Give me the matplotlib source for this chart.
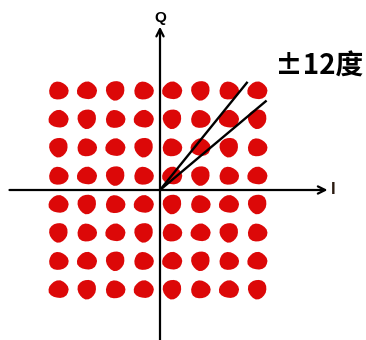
import numpy as np
import matplotlib
matplotlib.use("Agg")
import matplotlib.pyplot as plt
from matplotlib.path import Path

# 64-QAM constellation levels on each axis
i_levels = [-3.5, -2.5, -1.5, -0.5, 0.5, 1.5, 2.5, 3.5]
q_levels = [-3.5, -2.5, -1.5, -0.5, 0.5, 1.5, 2.5, 3.5]

# phase-error wedge: two rays from the origin (degrees) and their length
ray_angles = [51.0, 40.0]
ray_length = 4.9
wedge_label = "±12度"

red = "#DC0808"


def make_blob(radii, sx=1.0, sy=1.0):
    """Closed irregular outline used as a cluster marker."""
    t = np.linspace(0, 2 * np.pi, len(radii), endpoint=False)
    v = np.column_stack([sx * np.cos(t) * radii, sy * np.sin(t) * radii])
    v = np.vstack([v, v[:1]])
    codes = [Path.MOVETO] + [Path.LINETO] * (len(radii) - 1) + [Path.CLOSEPOLY]
    return Path(v, codes)


blobs = [
    make_blob([1.0, 0.98, 0.95, 0.97, 1.02, 1.0, 0.96, 0.93, 0.97, 1.0,
               1.04, 1.0, 0.95, 0.92, 0.96, 1.0, 1.02, 0.99], 1.0, 0.9),
    make_blob([0.96, 1.0, 1.03, 1.0, 0.95, 0.93, 0.96, 1.0, 1.05, 1.02,
               0.98, 0.95, 0.97, 1.01, 0.99, 0.95, 0.93, 0.95], 0.92, 1.0),
    make_blob([1.03, 1.0, 0.94, 0.92, 0.95, 0.99, 1.01, 0.98, 0.95, 0.97,
               1.0, 1.04, 1.02, 0.97, 0.95, 0.97, 1.0, 1.03], 1.0, 0.95),
]

fig = plt.figure(figsize=(3.66, 3.40), dpi=100)
ax = fig.add_axes([0, 0, 1, 1])
unit = 28.4  # pixels per constellation step
ax.set_xlim(-160 / unit, (366 - 160) / unit)
ax.set_ylim(-150 / unit, 190 / unit)
ax.axis("off")

for r, q in enumerate(q_levels):
    for c, i in enumerate(i_levels):
        ax.scatter([i - 0.07], [q], s=210, marker=blobs[(r * 2 + c) % 3],
                   color=red, edgecolors="none", zorder=2)

# I and Q axes with open arrowheads
ax.annotate("", xy=(5.9, 0), xytext=(-5.3, 0),
            arrowprops=dict(arrowstyle="->", lw=1.6, color="black",
                            mutation_scale=13, shrinkA=0, shrinkB=0), zorder=3)
ax.annotate("", xy=(0, 5.75), xytext=(0, -5.3),
            arrowprops=dict(arrowstyle="->", lw=1.6, color="black",
                            mutation_scale=13, shrinkA=0, shrinkB=0), zorder=3)
ax.text(6.0, 0, "I", fontsize=12, fontweight="bold", color="#2a1a10",
        ha="left", va="center", family=["Liberation Sans"])
ax.text(0, 6.05, "Q", fontsize=11, fontweight="bold", color="black",
        ha="center", va="center", family=["Liberation Sans"])

for a in ray_angles:
    th = np.deg2rad(a)
    ax.plot([0, ray_length * np.cos(th)], [0, ray_length * np.sin(th)],
            color="black", lw=1.7, solid_capstyle="butt", zorder=4)

ax.text(275 / unit - 160 / unit, (190 - 67) / unit, wedge_label,
        fontsize=20, fontweight="bold", ha="left", va="center",
        family=["Noto Sans CJK SC", "DejaVu Sans"])

fig.savefig("out.png", dpi=100)
